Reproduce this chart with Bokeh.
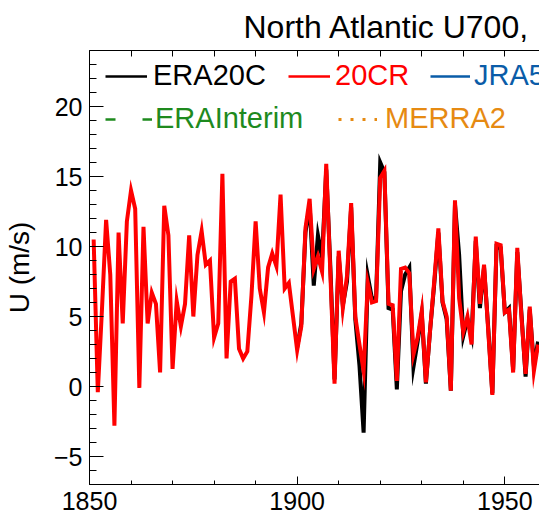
from bokeh.plotting import figure
from bokeh.models import Range1d, LinearAxis, FixedTicker, Legend, LegendItem
from bokeh.embed import file_html
from bokeh.resources import INLINE

# ---------------- data ----------------
years_20cr = list(range(1851, 1959))
u_20cr = [10.5, -0.4, 5.5, 11.9, 8.0, -2.8, 11.0, 4.5, 11.8, 14.0,   # 1851-1860
          12.7, -0.1, 11.4, 4.5, 6.7, 5.9, 1.0, 12.9, 10.8, 1.25,     # 1861-1870
          6.1, 4.3, 5.9, 10.8, 5.0, 9.4, 11.1, 8.7, 9.0, 3.5,         # 1871-1880
          4.5, 15.2, 2.0, 7.5, 7.7, 2.7, 2.0, 2.5, 6.5, 11.8,         # 1881-1890
          7.0, 5.3, 8.5, 9.5, 8.6, 13.7, 7.0, 7.4, 5.0, 2.6,          # 1891-1900
          4.3, 11.3, 13.4, 8.4, 9.3, 8.2, 15.9, 8.0, 0.2, 9.7,        # 1901-1910
          5.6, 7.9, 13.1, 5.0, 3.0, 1.1, 7.4, 6.0, 6.1, 14.9,         # 1911-1920
          15.4, 5.9, 5.8, 0.4, 8.4, 8.5, 8.1, 2.3, 3.5, 5.4,          # 1921-1930
          0.3, 4.0, 7.5, 11.3, 6.1, 5.0, -0.3, 13.3, 6.3, 3.9,        # 1931-1940
          5.0, 3.0, 10.7, 5.9, 8.7, 4.0, -0.6, 10.2, 10.1, 5.3,       # 1941-1950
          5.5, 1.0, 9.9, 5.0, 0.9, 5.7, 1.1, 3.0]                      # 1951-1958

years_era20c = list(range(1900, 1959))
u_era20c = [2.8,                                                      # 1900
            4.5, 11.0, 13.0, 7.2, 10.8, 9.2, 15.5, 8.5, 0.5, 9.3,     # 1901-1910
            5.8, 7.5, 12.8, 4.8, 1.5, -3.3, 7.9, 6.3, 6.3, 16.0,      # 1911-1920
            15.3, 5.6, 5.5, -0.2, 6.8, 8.0, 8.5, 1.4, 3.2, 5.2,       # 1921-1930
            0.2, 4.0, 7.3, 11.0, 6.0, 4.8, -0.3, 13.0, 9.4, 3.6,      # 1931-1940
            4.8, 3.6, 10.4, 5.6, 8.5, 4.2, -0.5, 10.0, 9.9, 5.3,      # 1941-1950
            5.6, 1.2, 9.6, 5.2, 0.7, 5.5, 1.5, 3.2]                    # 1951-1958

legend_labels = ["ERA20C", "20CR", "JRA55", "ERAInterim", "MERRA2"]
legend_colors = ["#000000", "#FF0000", "#0A5CA8", "#1E8A1E", "#E68A12"]
legend_dashes = ["solid", "solid", "solid", "10 27", "3 9"]

x_major = [1850, 1900, 1950]
x_minor = list(range(1850, 1961, 10))
y_major = [-5, 0, 5, 10, 15, 20]
y_minor = list(range(-7, 25))

title_text = "North Atlantic U700,"
y_label = "U (m/s)"

FONT = "Liberation Sans"
NAN = float("nan")

p = figure(width=539, height=519, output_backend="svg", toolbar_location=None,
           x_range=Range1d(1850, 1958.35), y_range=Range1d(-7, 24),
           x_axis_location=None, y_axis_location=None,
           min_border_left=89, min_border_right=0, min_border_top=49,
           min_border_bottom=35)
p.outline_line_color = None
p.grid.visible = False
p.background_fill_color = "white"
p.border_fill_color = "white"

p.title.text = title_text
p.title.align = "left"
p.title.offset = 154
p.title.text_font = FONT
p.title.text_font_size = "32px"
p.title.text_font_style = "normal"
p.title.text_color = "black"
p.title.standoff = 12

def style_axis(ax, tin, tmin):
    ax.axis_line_color = "black"
    ax.axis_line_width = 1
    ax.major_tick_in = tin
    ax.major_tick_out = 0
    ax.minor_tick_in = tmin
    ax.minor_tick_out = 0
    ax.major_tick_line_color = "black"
    ax.minor_tick_line_color = "black"
    ax.major_label_text_font = FONT
    ax.major_label_text_color = "black"
    ax.major_label_text_font_size = "25px"

left = LinearAxis(ticker=FixedTicker(ticks=y_major, minor_ticks=y_minor), axis_label=y_label)
style_axis(left, 14, 7)
left.major_label_standoff = 7
left.axis_label_text_font = FONT
left.axis_label_text_font_size = "28px"
left.axis_label_text_font_style = "normal"
left.axis_label_text_color = "black"
left.axis_label_standoff = 16
p.add_layout(left, "left")

below = LinearAxis(ticker=FixedTicker(ticks=x_major, minor_ticks=x_minor))
style_axis(below, 8, 4)
below.major_label_standoff = 7
p.add_layout(below, "below")

above = LinearAxis(ticker=FixedTicker(ticks=[], minor_ticks=x_minor))
style_axis(above, 8, 6)
above.major_label_standoff = 0
p.add_layout(above, "above")

# series
p.line(years_era20c, u_era20c, line_color="black", line_width=4, line_join="miter")
p.line(years_20cr, u_20cr, line_color="#FF0000", line_width=4, line_join="miter")

# legend (one box per entry so each label carries its own colour)
legend_x = [16, 199, 341, 16, 249]
legend_y = [392, 392, 392, 349, 349]
glyph_w = [42, 42, 40, 47, 39]
standoff = [6, 5, 4, 3, 8]
for lab, col, dash, lx, ly, gw, so in zip(legend_labels, legend_colors, legend_dashes,
                                          legend_x, legend_y, glyph_w, standoff):
    r = p.line([NAN, NAN], [NAN, NAN], line_color=col,
               line_width=3 if dash == "3 9" else 2.5, line_dash=dash)
    leg = Legend(items=[LegendItem(label=lab, renderers=[r])], location=(lx, ly),
                 orientation="horizontal", glyph_width=gw, glyph_height=20,
                 label_standoff=so, padding=0, margin=0, spacing=0,
                 border_line_color=None, background_fill_alpha=0,
                 label_text_color=col, label_text_font=FONT,
                 label_text_font_size="29px")
    p.add_layout(leg)

open("out.html", "w").write(file_html(p, INLINE))
